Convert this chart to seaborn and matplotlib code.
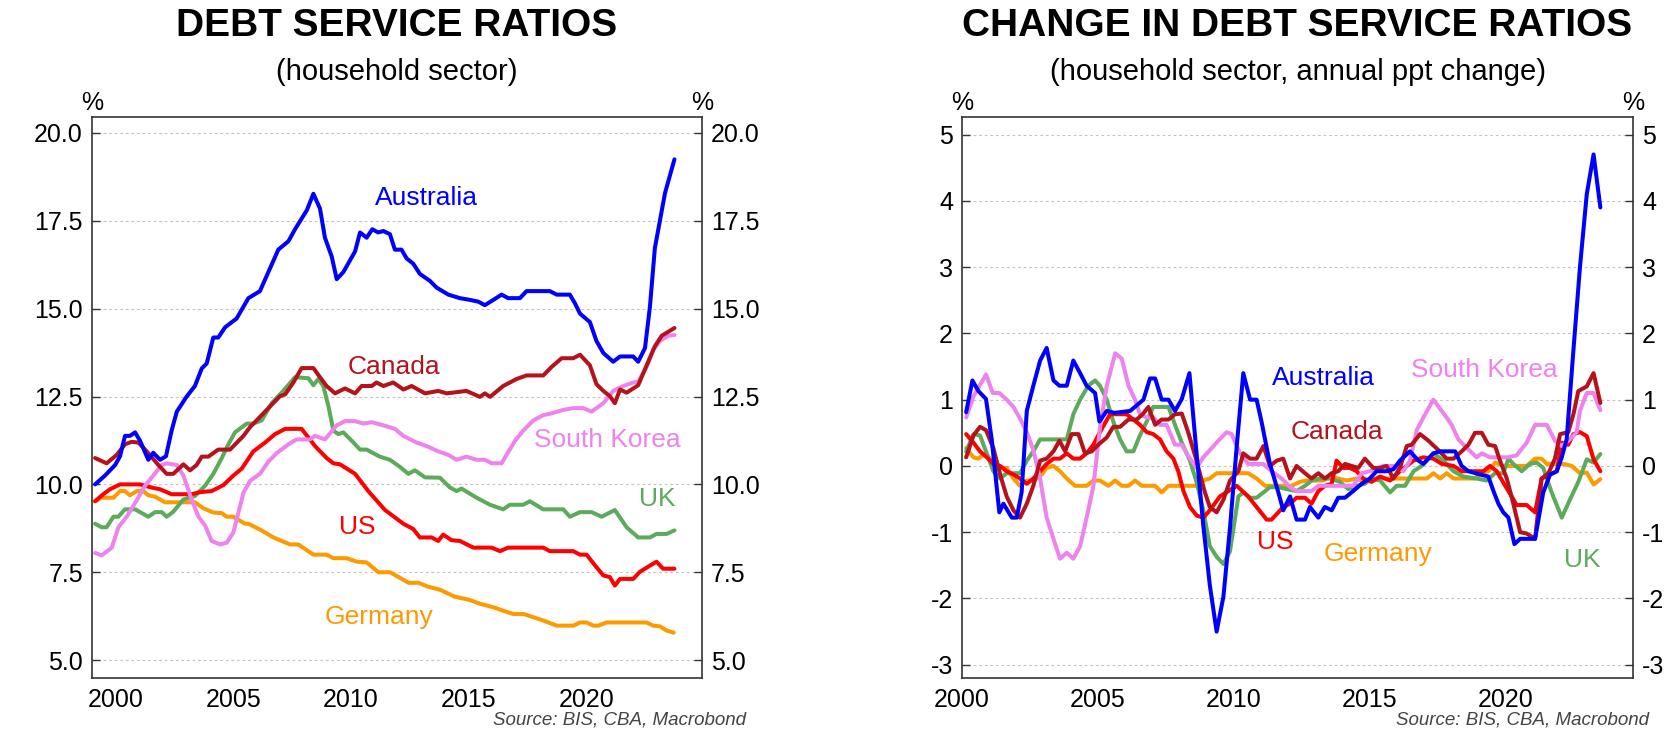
"""
Household debt service ratios: levels and annual change, six economies.
"""

import matplotlib
matplotlib.use("Agg")
import matplotlib.pyplot as plt
import pandas as pd
import seaborn as sns
from matplotlib.ticker import FormatStrFormatter

COUNTRIES = ["Germany", "UK", "US", "South Korea", "Canada", "Australia"]
COLORS = {
    "Australia": "#0000FF",
    "Canada": "#B5121B",
    "South Korea": "#EE82EE",
    "UK": "#5BAB5B",
    "US": "#FF0000",
    "Germany": "#FF9900",
}
YEAR_TICKS = [2000, 2005, 2010, 2015, 2020]
LEVEL_TICKS = [5.0, 7.5, 10.0, 12.5, 15.0, 17.5, 20.0]
CHANGE_TICKS = [-3, -2, -1, 0, 1, 2, 3, 4, 5]

# ---- debt service ratio, % (year, value) ----
AU_LEVEL = [
    (1999.13, 10.0), (1999.55, 10.25), (1999.98, 10.55), (2000.19, 10.8), (2000.40, 11.38),
    (2000.61, 11.38), (2000.83, 11.48), (2001.04, 11.24), (2001.39, 10.7), (2001.60, 10.9),
    (2001.89, 10.7), (2002.14, 10.8), (2002.38, 11.53), (2002.60, 12.07), (2003.02, 12.5),
    (2003.37, 12.8), (2003.66, 13.3), (2003.87, 13.44), (2004.15, 14.18), (2004.36, 14.18),
    (2004.65, 14.47), (2005.14, 14.72), (2005.64, 15.3), (2006.13, 15.5), (2006.91, 16.68),
    (2007.34, 16.92), (2007.62, 17.26), (2008.12, 17.8), (2008.40, 18.27), (2008.68, 17.85),
    (2008.89, 17.02), (2009.18, 16.48), (2009.39, 15.84), (2009.67, 16.04), (2010.17, 16.63),
    (2010.38, 17.17), (2010.66, 17.02), (2010.90, 17.26), (2011.15, 17.17), (2011.37, 17.21),
    (2011.65, 17.12), (2011.86, 16.68), (2012.14, 16.68), (2012.36, 16.43), (2012.64, 16.28),
    (2012.92, 15.99), (2013.35, 15.79), (2013.63, 15.6), (2014.13, 15.4), (2014.62, 15.3),
    (2015.05, 15.25), (2015.40, 15.2), (2015.68, 15.1), (2016.04, 15.25), (2016.39, 15.4),
    (2016.67, 15.3), (2017.17, 15.3), (2017.45, 15.5), (2018.44, 15.5), (2018.73, 15.4),
    (2019.29, 15.4), (2019.50, 15.16), (2019.72, 14.86), (2020.14, 14.62), (2020.42, 14.08),
    (2020.71, 13.74), (2021.13, 13.49), (2021.42, 13.64), (2021.98, 13.64), (2022.19, 13.49),
    (2022.48, 13.88), (2022.69, 15.06), (2022.90, 16.73), (2023.33, 18.29), (2023.73, 19.25),
]
CA_LEVEL = [
    (1999.13, 10.75), (1999.62, 10.6), (2000.05, 10.84), (2000.40, 11.14), (2000.68, 11.21),
    (2000.97, 11.19), (2001.32, 10.94), (2001.82, 10.55), (2002.17, 10.3), (2002.45, 10.3),
    (2002.88, 10.57), (2003.16, 10.4), (2003.44, 10.55), (2003.66, 10.79), (2003.94, 10.79),
    (2004.36, 10.99), (2004.86, 10.99), (2005.43, 11.38), (2005.71, 11.63), (2006.06, 11.87),
    (2006.49, 12.17), (2006.98, 12.51), (2007.20, 12.56), (2007.55, 12.9), (2007.90, 13.31),
    (2008.40, 13.31), (2008.68, 13.05), (2008.96, 12.8), (2009.32, 12.59), (2009.74, 12.73),
    (2010.17, 12.59), (2010.45, 12.8), (2010.88, 12.8), (2011.08, 12.9), (2011.37, 12.8),
    (2011.79, 12.9), (2012.22, 12.7), (2012.57, 12.8), (2013.14, 12.59), (2013.70, 12.66),
    (2014.06, 12.59), (2014.90, 12.66), (2015.47, 12.49), (2015.68, 12.59), (2015.90, 12.49),
    (2016.46, 12.8), (2017.03, 13.0), (2017.45, 13.1), (2018.16, 13.1), (2018.51, 13.34),
    (2018.94, 13.59), (2019.43, 13.59), (2019.72, 13.69), (2020.14, 13.39), (2020.42, 12.85),
    (2020.71, 12.66), (2020.99, 12.51), (2021.20, 12.31), (2021.42, 12.7), (2021.70, 12.61),
    (2022.19, 12.82), (2022.55, 13.39), (2022.90, 13.93), (2023.19, 14.23), (2023.73, 14.45),
]
UK_LEVEL = [
    (1999.13, 8.88), (1999.41, 8.78), (1999.62, 8.78), (1999.91, 9.08), (2000.12, 9.08),
    (2000.40, 9.29), (2000.83, 9.29), (2001.39, 9.08), (2001.68, 9.21), (2001.96, 9.21),
    (2002.17, 9.08), (2002.45, 9.22), (2002.88, 9.57), (2003.37, 9.67), (2003.80, 9.96),
    (2004.15, 10.3), (2004.51, 10.75), (2004.79, 11.14), (2005.07, 11.48), (2005.57, 11.73),
    (2005.85, 11.73), (2006.20, 11.82), (2006.63, 12.31), (2007.12, 12.66), (2007.62, 13.05),
    (2008.19, 13.02), (2008.40, 12.82), (2008.61, 13.0), (2008.82, 12.8), (2009.04, 12.22),
    (2009.25, 11.53), (2009.46, 11.43), (2009.67, 11.48), (2010.03, 11.24), (2010.38, 10.99),
    (2010.66, 10.99), (2011.22, 10.79), (2011.65, 10.7), (2012.07, 10.5), (2012.43, 10.3),
    (2012.71, 10.4), (2013.14, 10.2), (2013.77, 10.19), (2014.20, 9.91), (2014.48, 9.81),
    (2014.69, 9.88), (2015.33, 9.62), (2015.90, 9.42), (2016.46, 9.29), (2016.74, 9.42),
    (2017.31, 9.42), (2017.59, 9.52), (2018.16, 9.29), (2019.01, 9.29), (2019.29, 9.08),
    (2019.72, 9.21), (2020.21, 9.21), (2020.64, 9.08), (2021.20, 9.27), (2021.70, 8.78),
    (2022.19, 8.49), (2022.69, 8.49), (2022.97, 8.59), (2023.40, 8.59), (2023.73, 8.69),
]
US_LEVEL = [
    (1999.13, 9.52), (1999.48, 9.72), (1999.76, 9.86), (2000.19, 10.0), (2001.04, 10.0),
    (2001.53, 9.91), (2001.89, 9.86), (2002.38, 9.72), (2003.23, 9.72), (2003.59, 9.78),
    (2004.08, 9.81), (2004.58, 9.98), (2005.00, 10.25), (2005.36, 10.45), (2005.85, 10.94),
    (2006.35, 11.19), (2006.77, 11.43), (2007.20, 11.58), (2007.90, 11.58), (2008.47, 11.09),
    (2008.96, 10.75), (2009.25, 10.6), (2009.53, 10.57), (2010.17, 10.3), (2010.73, 9.81),
    (2011.44, 9.27), (2011.72, 9.13), (2012.22, 8.88), (2012.64, 8.73), (2012.92, 8.49),
    (2013.42, 8.49), (2013.70, 8.39), (2013.91, 8.57), (2014.27, 8.41), (2014.62, 8.39),
    (2015.19, 8.2), (2015.97, 8.2), (2016.32, 8.1), (2016.67, 8.2), (2018.16, 8.2),
    (2018.44, 8.1), (2019.43, 8.1), (2019.72, 8.0), (2020.00, 8.0), (2020.35, 7.7),
    (2020.71, 7.41), (2020.99, 7.36), (2021.20, 7.12), (2021.42, 7.31), (2021.98, 7.31),
    (2022.26, 7.51), (2022.62, 7.66), (2022.97, 7.8), (2023.25, 7.6), (2023.73, 7.6),
]
DE_LEVEL = [
    (1999.13, 9.52), (1999.41, 9.62), (1999.91, 9.62), (2000.19, 9.81), (2000.40, 9.81),
    (2000.61, 9.69), (2000.90, 9.81), (2001.18, 9.81), (2001.39, 9.69), (2001.68, 9.65),
    (2002.10, 9.49), (2003.37, 9.49), (2003.73, 9.32), (2004.15, 9.2), (2004.51, 9.18),
    (2004.72, 9.08), (2005.00, 9.08), (2005.50, 8.88), (2005.64, 8.88), (2006.20, 8.69),
    (2006.70, 8.49), (2007.41, 8.29), (2007.76, 8.29), (2008.40, 8.0), (2008.96, 8.0),
    (2009.25, 7.9), (2009.81, 7.9), (2010.24, 7.8), (2010.66, 7.78), (2011.16, 7.5),
    (2011.66, 7.5), (2012.44, 7.2), (2012.86, 7.2), (2013.22, 7.1), (2013.78, 7.0),
    (2014.42, 6.8), (2014.99, 6.72), (2015.49, 6.6), (2016.06, 6.5), (2016.48, 6.4),
    (2016.90, 6.31), (2017.33, 6.31), (2017.74, 6.22), (2018.10, 6.14), (2018.38, 6.07),
    (2018.73, 5.98), (2019.44, 5.98), (2019.72, 6.07), (2020.00, 6.07), (2020.29, 5.98),
    (2020.50, 5.98), (2020.85, 6.07), (2022.55, 6.07), (2022.83, 5.98), (2023.11, 5.96),
    (2023.40, 5.84), (2023.70, 5.78),
]
KR_LEVEL = [
    (1999.13, 8.05), (1999.41, 7.98), (1999.84, 8.2), (2000.12, 8.78), (2000.47, 9.08),
    (2000.83, 9.47), (2001.25, 9.96), (2001.60, 10.25), (2001.96, 10.55), (2002.17, 10.6),
    (2002.60, 10.55), (2002.88, 10.25), (2003.23, 9.57), (2003.52, 9.08), (2003.80, 8.83),
    (2004.08, 8.39), (2004.44, 8.29), (2004.72, 8.34), (2005.00, 8.63), (2005.43, 9.76),
    (2005.71, 10.1), (2006.13, 10.3), (2006.49, 10.65), (2006.84, 10.89), (2007.34, 11.14),
    (2007.69, 11.28), (2008.26, 11.28), (2008.47, 11.38), (2008.89, 11.28), (2009.39, 11.68),
    (2009.74, 11.8), (2010.17, 11.8), (2010.52, 11.73), (2010.88, 11.77), (2011.37, 11.68),
    (2011.86, 11.58), (2012.22, 11.38), (2012.78, 11.19), (2013.21, 11.09), (2013.70, 10.94),
    (2014.13, 10.84), (2014.48, 10.7), (2014.90, 10.79), (2015.33, 10.7), (2015.68, 10.7),
    (2015.97, 10.6), (2016.39, 10.6), (2016.60, 10.84), (2016.96, 11.24), (2017.31, 11.53),
    (2017.74, 11.82), (2018.16, 11.97), (2018.51, 12.02), (2019.01, 12.12), (2019.43, 12.17),
    (2019.86, 12.17), (2020.21, 12.07), (2020.71, 12.31), (2021.13, 12.66), (2021.56, 12.8),
    (2021.98, 12.9), (2022.19, 12.92), (2022.55, 13.34), (2022.83, 13.83), (2023.11, 14.08),
    (2023.47, 14.23), (2023.73, 14.25),
]

# ---- annual change in debt service ratio, ppt (year, value) ----
AU_CHANGE = [
    (2000.15, 0.81), (2000.38, 1.29), (2000.60, 1.13), (2000.88, 1.01), (2001.09, 0.40),
    (2001.37, -0.70), (2001.52, -0.57), (2001.83, -0.78), (2002.01, -0.78), (2002.19, -0.40),
    (2002.38, 0.83), (2002.62, 1.21), (2002.87, 1.59), (2003.11, 1.78), (2003.36, 1.29),
    (2003.58, 1.21), (2003.85, 1.21), (2004.09, 1.59), (2004.34, 1.40), (2004.58, 1.21),
    (2004.89, 1.10), (2005.05, 0.67), (2005.32, 0.83), (2005.60, 0.80), (2006.18, 0.83),
    (2006.67, 1.00), (2006.91, 1.32), (2007.10, 1.32), (2007.34, 1.00), (2007.59, 1.00),
    (2007.83, 0.83), (2008.08, 1.01), (2008.36, 1.40), (2008.62, 0.20), (2008.87, -0.90),
    (2009.11, -1.80), (2009.36, -2.50), (2009.61, -1.97), (2009.85, -0.94), (2010.10, 0.30),
    (2010.34, 1.40), (2010.59, 1.00), (2010.83, 1.00), (2011.01, 0.67), (2011.32, 0.03),
    (2011.63, -0.40), (2011.81, -0.67), (2012.06, -0.46), (2012.30, -0.81), (2012.61, -0.81),
    (2012.79, -0.62), (2013.10, -0.78), (2013.34, -0.62), (2013.59, -0.67), (2013.83, -0.48),
    (2014.08, -0.48), (2014.38, -0.38), (2014.69, -0.27), (2014.99, -0.19), (2015.24, -0.08),
    (2015.61, -0.08), (2015.86, -0.05), (2016.10, 0.08), (2016.47, 0.22), (2016.78, 0.08),
    (2016.96, 0.03), (2017.33, 0.19), (2017.58, 0.22), (2018.13, 0.22), (2018.37, 0.0),
    (2018.62, -0.08), (2019.05, -0.13), (2019.35, -0.16), (2019.54, -0.38), (2019.72, -0.57),
    (2019.90, -0.70), (2020.09, -0.78), (2020.31, -1.18), (2020.52, -1.10), (2021.07, -1.10),
    (2021.37, -0.40), (2021.62, -0.13), (2021.87, -0.08), (2022.05, 0.13), (2022.23, 0.40),
    (2022.48, 1.75), (2022.72, 3.0), (2022.97, 4.1), (2023.22, 4.7), (2023.47, 3.9),
]
CA_CHANGE = [
    (2000.15, 0.13), (2000.42, 0.46), (2000.66, 0.59), (2000.88, 0.54), (2001.15, 0.27),
    (2001.40, -0.13), (2001.64, -0.46), (2001.89, -0.67), (2002.13, -0.78), (2002.38, -0.57),
    (2002.62, -0.30), (2002.87, 0.08), (2003.11, 0.11), (2003.36, 0.22), (2003.58, 0.38),
    (2003.79, 0.22), (2004.03, 0.48), (2004.28, 0.48), (2004.52, 0.19), (2004.77, 0.22),
    (2005.01, 0.32), (2005.32, 0.43), (2005.56, 0.59), (2005.81, 0.59), (2006.12, 0.70),
    (2006.42, 0.70), (2006.64, 0.78), (2006.85, 0.89), (2007.10, 0.62), (2007.34, 0.70),
    (2007.59, 0.70), (2007.83, 0.78), (2008.08, 0.79), (2008.32, 0.50), (2008.62, 0.08),
    (2008.93, -0.40), (2009.11, -0.62), (2009.36, -0.70), (2009.61, -0.51), (2009.85, -0.22),
    (2010.16, -0.08), (2010.34, 0.19), (2010.59, 0.11), (2010.83, 0.11), (2011.08, 0.30),
    (2011.32, 0.0), (2011.57, 0.08), (2011.81, 0.11), (2012.06, -0.19), (2012.30, 0.0),
    (2012.61, -0.11), (2012.85, -0.19), (2013.10, -0.11), (2013.34, -0.19), (2013.59, -0.11),
    (2013.83, -0.08), (2014.08, 0.03), (2014.32, 0.0), (2014.57, -0.03), (2014.81, 0.11),
    (2015.12, -0.03), (2015.37, -0.03), (2015.61, 0.0), (2015.86, -0.19), (2016.10, -0.03),
    (2016.35, 0.30), (2016.53, 0.32), (2016.84, 0.48), (2017.15, 0.38), (2017.51, 0.24),
    (2017.82, 0.11), (2018.07, 0.11), (2018.37, 0.22), (2018.62, 0.32), (2018.86, 0.50),
    (2019.11, 0.50), (2019.35, 0.32), (2019.60, 0.30), (2019.78, 0.08), (2020.03, -0.19),
    (2020.27, -0.57), (2020.52, -1.00), (2020.76, -1.02), (2021.07, -1.10), (2021.31, -0.19),
    (2021.56, -0.11), (2021.80, 0.11), (2021.99, 0.48), (2022.29, 0.51), (2022.48, 0.78),
    (2022.66, 1.13), (2022.97, 1.20), (2023.22, 1.40), (2023.47, 0.95),
]
UK_CHANGE = [
    (2000.15, 0.22), (2000.42, 0.48), (2000.66, 0.46), (2000.88, 0.22), (2001.15, -0.08),
    (2001.40, -0.19), (2001.64, -0.11), (2002.13, -0.11), (2002.38, 0.08), (2002.62, 0.22),
    (2002.87, 0.40), (2003.85, 0.40), (2004.09, 0.78), (2004.34, 1.00), (2004.64, 1.21),
    (2004.89, 1.29), (2005.07, 1.21), (2005.32, 1.00), (2005.56, 0.67), (2005.81, 0.40),
    (2006.05, 0.22), (2006.30, 0.22), (2006.54, 0.46), (2006.79, 0.67), (2007.03, 0.89),
    (2007.59, 0.89), (2007.83, 0.62), (2008.08, 0.35), (2008.38, 0.08), (2008.62, -0.24),
    (2008.87, -0.67), (2009.11, -1.21), (2009.36, -1.37), (2009.61, -1.48), (2009.85, -1.29),
    (2010.16, -0.46), (2010.34, -0.40), (2010.59, -0.48), (2010.83, -0.48), (2011.08, -0.40),
    (2011.32, -0.32), (2011.63, -0.32), (2011.94, -0.35), (2012.30, -0.38), (2012.61, -0.30),
    (2012.85, -0.22), (2013.16, -0.19), (2013.53, -0.19), (2013.89, -0.24), (2014.20, -0.35),
    (2014.51, -0.30), (2014.81, -0.27), (2015.06, -0.19), (2015.37, -0.22), (2015.74, -0.40),
    (2015.98, -0.30), (2016.29, -0.30), (2016.60, -0.08), (2016.90, 0.0), (2017.33, 0.19),
    (2017.70, 0.08), (2018.07, -0.08), (2018.43, -0.16), (2018.92, -0.19), (2019.29, -0.22),
    (2019.60, -0.11), (2019.90, -0.11), (2020.09, 0.11), (2020.27, 0.03), (2020.58, -0.08),
    (2020.88, 0.03), (2021.13, 0.05), (2021.37, -0.03), (2021.68, -0.40), (2022.05, -0.78),
    (2022.35, -0.51), (2022.66, -0.24), (2022.97, 0.10), (2023.22, 0.05), (2023.47, 0.18),
]
US_CHANGE = [
    (2000.15, 0.48), (2000.42, 0.35), (2000.66, 0.22), (2000.91, 0.13), (2001.15, 0.03),
    (2001.40, 0.0), (2001.64, -0.08), (2001.89, -0.13), (2002.13, -0.19), (2002.38, -0.27),
    (2002.62, -0.19), (2002.87, -0.08), (2003.11, 0.03), (2003.36, 0.11), (2003.60, 0.11),
    (2003.85, 0.19), (2004.09, 0.11), (2004.34, 0.11), (2004.58, 0.19), (2004.83, 0.32),
    (2005.07, 0.51), (2005.44, 0.78), (2006.05, 0.78), (2006.30, 0.70), (2006.54, 0.62),
    (2006.79, 0.51), (2007.03, 0.48), (2007.28, 0.40), (2007.52, 0.22), (2007.77, 0.11),
    (2007.95, -0.08), (2008.14, -0.38), (2008.38, -0.62), (2008.63, -0.75), (2008.87, -0.78),
    (2009.11, -0.67), (2009.48, -0.46), (2010.10, -0.30), (2010.52, -0.46), (2010.83, -0.62),
    (2011.20, -0.81), (2011.38, -0.81), (2011.81, -0.62), (2012.06, -0.57), (2012.30, -0.48),
    (2012.61, -0.48), (2012.85, -0.57), (2013.10, -0.38), (2013.34, -0.30), (2013.59, -0.27),
    (2013.77, 0.08), (2014.02, -0.03), (2014.26, -0.03), (2014.51, -0.08), (2014.75, -0.19),
    (2015.06, -0.24), (2015.37, -0.16), (2015.74, -0.22), (2016.10, -0.08), (2016.60, 0.08),
    (2016.96, 0.13), (2017.33, 0.11), (2017.64, 0.03), (2018.07, 0.0), (2018.37, -0.08),
    (2018.80, -0.08), (2019.17, -0.08), (2019.41, 0.0), (2019.66, -0.08), (2019.97, -0.30),
    (2020.21, -0.46), (2020.39, -0.59), (2020.76, -0.59), (2021.07, -0.70), (2021.31, -0.19),
    (2021.62, -0.13), (2021.87, -0.08), (2022.05, 0.35), (2022.29, 0.32), (2022.48, 0.48),
    (2022.72, 0.51), (2022.97, 0.45), (2023.22, 0.10), (2023.47, -0.08),
]
DE_CHANGE = [
    (2000.15, 0.27), (2000.42, 0.13), (2000.60, 0.11), (2000.85, 0.19), (2001.09, 0.08),
    (2001.34, -0.03), (2001.64, -0.03), (2001.89, -0.19), (2002.13, -0.30), (2002.38, -0.22),
    (2002.62, -0.22), (2002.93, -0.13), (2003.11, -0.03), (2003.36, 0.0), (2003.60, -0.08),
    (2003.85, -0.19), (2004.15, -0.30), (2004.58, -0.30), (2004.83, -0.22), (2005.07, -0.22),
    (2005.38, -0.30), (2005.63, -0.22), (2005.87, -0.30), (2006.12, -0.30), (2006.36, -0.22),
    (2006.61, -0.30), (2007.10, -0.30), (2007.34, -0.40), (2007.59, -0.30), (2008.62, -0.30),
    (2008.87, -0.22), (2009.11, -0.19), (2009.36, -0.11), (2010.52, -0.11), (2010.83, -0.19),
    (2011.14, -0.30), (2012.12, -0.30), (2012.42, -0.24), (2012.67, -0.22), (2013.28, -0.22),
    (2013.53, -0.16), (2013.83, -0.19), (2014.14, -0.22), (2014.51, -0.19), (2014.81, -0.24),
    (2015.06, -0.19), (2017.09, -0.19), (2017.33, -0.11), (2017.58, -0.19), (2017.82, -0.11),
    (2018.07, -0.19), (2018.86, -0.19), (2019.05, -0.11), (2019.35, -0.08), (2019.60, 0.05),
    (2019.90, 0.0), (2020.76, 0.0), (2021.07, 0.11), (2021.31, 0.11), (2021.50, 0.03),
    (2022.11, 0.03), (2022.42, 0.0), (2022.72, -0.11), (2022.97, -0.10), (2023.22, -0.28),
    (2023.47, -0.20),
]
KR_CHANGE = [
    (2000.15, 0.73), (2000.42, 1.05), (2000.88, 1.38), (2001.13, 1.10), (2001.37, 1.10),
    (2001.64, 1.00), (2001.89, 0.89), (2002.11, 0.73), (2002.38, 0.51), (2002.62, 0.24),
    (2002.87, -0.19), (2003.11, -0.78), (2003.36, -1.10), (2003.60, -1.40), (2003.85, -1.31),
    (2004.09, -1.40), (2004.34, -1.21), (2004.58, -0.78), (2004.83, -0.30), (2005.07, 0.57),
    (2005.32, 1.21), (2005.63, 1.70), (2005.87, 1.62), (2006.12, 1.21), (2006.36, 1.00),
    (2006.54, 0.78), (2006.79, 0.73), (2007.03, 0.73), (2007.28, 0.62), (2007.52, 0.62),
    (2007.83, 0.32), (2008.08, 0.32), (2008.32, 0.15), (2008.62, -0.03), (2008.87, 0.13),
    (2009.18, 0.27), (2009.42, 0.38), (2009.73, 0.51), (2009.91, 0.48), (2010.22, 0.19),
    (2010.52, 0.03), (2011.08, 0.03), (2011.38, -0.08), (2011.75, -0.19), (2012.06, -0.32),
    (2012.30, -0.38), (2012.85, -0.38), (2013.10, -0.30), (2014.38, -0.30), (2014.69, -0.11),
    (2014.99, -0.08), (2015.49, 0.0), (2015.86, 0.0), (2016.22, -0.08), (2016.47, 0.08),
    (2016.72, 0.54), (2016.96, 0.73), (2017.33, 1.00), (2017.58, 0.86), (2017.82, 0.73),
    (2018.00, 0.62), (2018.25, 0.40), (2018.56, 0.27), (2018.92, 0.13), (2019.11, 0.19),
    (2019.41, 0.13), (2020.09, 0.13), (2020.39, 0.16), (2020.76, 0.35), (2021.07, 0.62),
    (2021.50, 0.62), (2021.80, 0.38), (2022.05, 0.30), (2022.35, 0.40), (2022.60, 0.51),
    (2022.72, 0.83), (2022.97, 1.10), (2023.22, 1.10), (2023.47, 0.84),
]


def long_frame(series: dict) -> pd.DataFrame:
    """Stack (year, value) pairs per country into one tidy frame."""
    parts = []
    for name, pairs in series.items():
        part = pd.DataFrame(pairs, columns=["year", "value"])
        part["country"] = name
        parts.append(part)
    return pd.concat(parts, ignore_index=True)


def style_axes(ax, yticks, fmt, xlim, ylim):
    """Boxed frame, inward ticks, labels on both sides, dotted y grid."""
    ax.set_xlim(*xlim)
    ax.set_ylim(*ylim)
    ax.set_xticks(YEAR_TICKS)
    ax.set_yticks(yticks)
    ax.yaxis.set_major_formatter(FormatStrFormatter(fmt))
    ax.tick_params(axis="both", direction="in", length=6, width=1.0,
                   labelsize=18, color="#333333", labelcolor="black")
    ax.tick_params(axis="y", left=True, right=True, labelleft=True,
                   labelright=True, pad=6.5)
    ax.tick_params(axis="x", top=False, pad=7)
    ax.grid(False)
    ax.yaxis.grid(True, color="#c4c4c4", linestyle=(0, (2.5, 2.5)), linewidth=0.8)
    for spine in ax.spines.values():
        spine.set_visible(True)
        spine.set_linewidth(1.2)
        spine.set_color("#333333")
    ax.set_xlabel("")
    ax.set_ylabel("")
    for xpos in (0.0, 1.0):
        ax.text(xpos, 1.004, "%", transform=ax.transAxes, ha="center",
                va="bottom", fontsize=18, color="black")


def draw_panel(ax, frame, labels):
    sns.lineplot(data=frame, x="year", y="value", hue="country",
                 hue_order=COUNTRIES, palette=COLORS, estimator=None,
                 linewidth=2.9, legend=False, ax=ax)
    for name, (x, y) in labels.items():
        ax.text(x, y, name, color=COLORS[name], fontsize=19,
                ha="center", va="center")


sns.set_theme(style="white")
plt.rcParams["font.family"] = ["Liberation Sans", "DejaVu Sans"]
plt.rcParams["axes.unicode_minus"] = False
plt.rcParams["text.color"] = "black"

fig = plt.figure(figsize=(16.79, 7.5), dpi=100)
ax_lvl = fig.add_axes([0.0548, 0.096, 0.3633, 0.748])
ax_chg = fig.add_axes([0.5730, 0.096, 0.3996, 0.748])

levels = long_frame({
    "Australia": AU_LEVEL, "Canada": CA_LEVEL, "South Korea": KR_LEVEL,
    "UK": UK_LEVEL, "US": US_LEVEL, "Germany": DE_LEVEL,
})
changes = long_frame({
    "Australia": AU_CHANGE, "Canada": CA_CHANGE, "South Korea": KR_CHANGE,
    "UK": UK_CHANGE, "US": US_CHANGE, "Germany": DE_CHANGE,
})

draw_panel(ax_lvl, levels, {
    "Australia": (2013.2, 18.15), "Canada": (2011.8, 13.34),
    "South Korea": (2020.9, 11.26), "UK": (2023.0, 9.58),
    "US": (2010.25, 8.79), "Germany": (2011.2, 6.22),
})
draw_panel(ax_chg, changes, {
    "Australia": (2013.3, 1.33), "Canada": (2013.8, 0.51),
    "South Korea": (2019.2, 1.45), "UK": (2022.8, -1.42),
    "US": (2011.5, -1.15), "Germany": (2015.3, -1.33),
})

style_axes(ax_lvl, LEVEL_TICKS, "%.1f", (1999.0, 2024.9), (4.49, 20.455))
style_axes(ax_chg, CHANGE_TICKS, "%d", (2000.0, 2024.67), (-3.2, 5.265))

for xc, title, sub in [
    (0.2364, "DEBT SERVICE RATIOS", "(household sector)"),
    (0.7728, "CHANGE IN DEBT SERVICE RATIOS", "(household sector, annual ppt change)"),
]:
    fig.text(xc, 0.965, title, ha="center", va="center", fontsize=28,
             fontweight="bold", color="black")
    fig.text(xc, 0.904, sub, ha="center", va="center", fontsize=21,
             color="black")

for xs in (0.2936, 0.8314):
    fig.text(xs, 0.04, "Source: BIS, CBA, Macrobond", ha="left", va="center",
             fontsize=13.5, style="italic", color="#444444")

fig.savefig("out.png", dpi=100)
plt.close(fig)
